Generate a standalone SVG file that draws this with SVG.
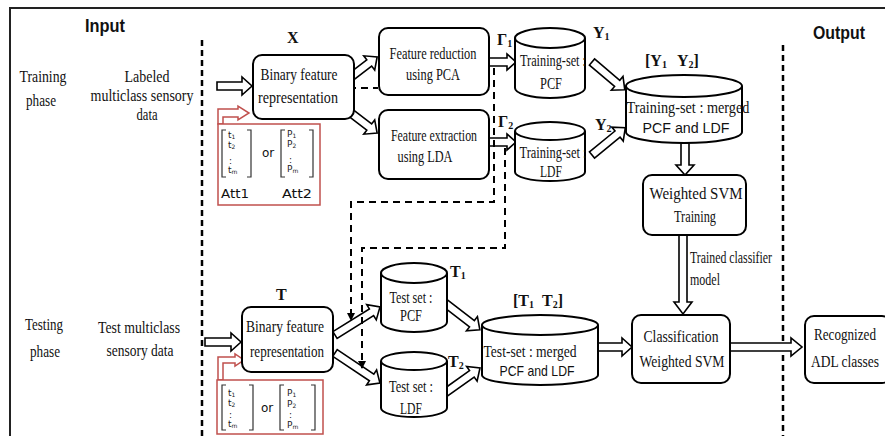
<svg xmlns="http://www.w3.org/2000/svg" width="885" height="436" viewBox="0 0 885 436">
<style>
.bx{fill:#fff;stroke:#000;stroke-width:2}
.cy{fill:#fff;stroke:#000;stroke-width:2}
.t{font-family:"Liberation Serif",serif;font-size:17px;text-anchor:middle;fill:#111}
.ts{font-family:"Liberation Serif",serif;font-size:17px;fill:#111}
.sa{font-family:"Liberation Sans",sans-serif;font-size:15px;text-anchor:middle;fill:#111}
.hd{font-family:"Liberation Sans",sans-serif;font-size:19px;font-weight:bold;fill:#111}
.lb{font-family:"Liberation Serif",serif;font-size:16px;font-weight:bold;fill:#111}
.arr{fill:#fff;stroke:#000;stroke-width:1.6;stroke-linejoin:miter}
.dash{fill:none;stroke:#000;stroke-width:2;stroke-dasharray:7 5}
.div{fill:none;stroke:#000;stroke-width:2.5;stroke-dasharray:6 4}
.red{fill:#fff;stroke:#c0504d;stroke-width:1.5}
.brk{fill:none;stroke:#333;stroke-width:1.2}
.m{font-family:"DejaVu Sans",sans-serif;font-size:9px;fill:#222}
.att{font-family:"DejaVu Sans",sans-serif;font-size:12px;fill:#111}
</style>
<defs>
<marker id="ah" viewBox="0 0 8 8" refX="7" refY="4" markerWidth="8" markerHeight="8" markerUnits="userSpaceOnUse" orient="auto">
<path d="M0,0 L8,4 L0,8 z" fill="#000"/>
</marker>
</defs>
<rect width="885" height="436" fill="#fff"/>
<rect x="10" y="8" width="880" height="440" fill="none" stroke="#222" stroke-width="2"/>
<g id="dividers">
<line class="div" x1="202" y1="40" x2="202" y2="436"/>
<line class="div" x1="783" y1="45" x2="783" y2="436"/>
</g>
<g id="headings">
<text class="hd" x="85" y="32" textLength="40" lengthAdjust="spacingAndGlyphs">Input</text>
<text class="hd" x="813" y="39" textLength="52" lengthAdjust="spacingAndGlyphs">Output</text>
<text class="t" x="43" y="82" textLength="47" lengthAdjust="spacingAndGlyphs">Training</text>
<text class="t" x="41" y="106" textLength="30" lengthAdjust="spacingAndGlyphs">phase</text>
<text class="t" x="147" y="82" textLength="45" lengthAdjust="spacingAndGlyphs">Labeled</text>
<text class="t" x="142" y="101" textLength="103" lengthAdjust="spacingAndGlyphs">multiclass sensory</text>
<text class="t" x="147" y="120" textLength="21" lengthAdjust="spacingAndGlyphs">data</text>
<text class="t" x="44" y="330" textLength="38" lengthAdjust="spacingAndGlyphs">Testing</text>
<text class="t" x="45" y="357" textLength="30" lengthAdjust="spacingAndGlyphs">phase</text>
<text class="t" x="139" y="333" textLength="82" lengthAdjust="spacingAndGlyphs">Test multiclass</text>
<text class="t" x="140" y="356" textLength="67" lengthAdjust="spacingAndGlyphs">sensory data</text>
</g>
<g id="connectors">
<polygon class="arr" points="217,82 242,82 242,77 252,86 242,95 242,90 217,90"/>
<polygon class="arr" points="205,338 231,338 231,333 241,342 231,351 231,346 205,346"/>
<polygon class="arr" points="489,58 507,58 507,54 516,62 507,70 507,66 489,66"/>
<polygon class="arr" points="489,138 507,138 507,134 516,142 507,150 507,146 489,146"/>
<polygon class="arr" points="598,343 622,343 622,338 632,347 622,356 622,351 598,351"/>
<polygon class="arr" points="730,343 791,343 791,338 802,347 791,356 791,351 730,351"/>
<polygon class="arr" points="681,143 681,165 676,165 685,175 694,165 689,165 689,143"/>
<polygon class="arr" points="679,235 679,302 674,302 683,314 692,302 687,302 687,235"/>
<polygon class="arr" transform="translate(347,80) rotate(-37.5)" points="0,-4 28,-4 28,-9 38,0 28,9 28,4 0,4"/>
<polygon class="arr" transform="translate(347,110) rotate(37.5)" points="0,-4 28,-4 28,-9 38,0 28,9 28,4 0,4"/>
<polygon class="arr" transform="translate(592,62) rotate(40.3)" points="0,-4 33,-4 33,-9 43,0 33,9 33,4 0,4"/>
<polygon class="arr" transform="translate(592,155) rotate(-39.3)" points="0,-4 33,-4 33,-9 43,0 33,9 33,4 0,4"/>
<polygon class="arr" transform="translate(335,335) rotate(-31.9)" points="0,-4 43,-4 43,-9 53,0 43,9 43,4 0,4"/>
<polygon class="arr" transform="translate(335,353) rotate(33.7)" points="0,-4 44,-4 44,-9 54,0 44,9 44,4 0,4"/>
<polygon class="arr" transform="translate(445,303) rotate(37.6)" points="0,-4 34,-4 34,-9 44,0 34,9 34,4 0,4"/>
<polygon class="arr" transform="translate(445,393) rotate(-35.5)" points="0,-4 33,-4 33,-9 43,0 33,9 33,4 0,4"/>
<polygon class="red" points="218,124 218,109 238,109 238,106 249,113 238,120 238,117 223,117 223,124"/>
<polygon class="red" points="218,380 218,357 235,357 235,354 244,360 235,366 235,363 223,363 223,380"/>
<line class="dash" x1="349" y1="88" x2="378" y2="88"/>
<path class="dash" d="M494,68 V202 H351 V320" marker-end="url(#ah)"/>
<path class="dash" d="M505,148 V248 H362 V368" marker-end="url(#ah)"/>
<text class="ts" x="690" y="263" textLength="82" lengthAdjust="spacingAndGlyphs">Trained classifier</text>
<text class="ts" x="690" y="285" textLength="30" lengthAdjust="spacingAndGlyphs">model</text>
</g>
<g id="att-top">
<rect class="red" x="218" y="124" width="102" height="81"/>
<path class="brk" d="M226,130 H222 V177 H226 M247,130 H251 V177 H247 M285,130 H281 V177 H285 M309,130 H313 V177 H309"/>
<text class="m" x="228" y="138">t<tspan font-size="6" dy="1">1</tspan></text>
<text class="m" x="228" y="148">t<tspan font-size="6" dy="1">2</tspan></text>
<text class="m" x="229" y="164">:</text>
<text class="m" x="228" y="173">t<tspan font-size="6" dy="1">m</tspan></text>
<text class="m" x="287" y="137">P<tspan font-size="6" dy="1">1</tspan></text>
<text class="m" x="287" y="147">P<tspan font-size="6" dy="1">2</tspan></text>
<text class="m" x="289" y="163">:</text>
<text class="m" x="287" y="172">P<tspan font-size="6" dy="1">m</tspan></text>
<text class="att" x="262" y="157">or</text>
<text class="att" x="221" y="198" textLength="28" lengthAdjust="spacingAndGlyphs">Att1</text>
<text class="att" x="282" y="198" textLength="30" lengthAdjust="spacingAndGlyphs">Att2</text>
</g>
<g id="att-bottom">
<rect class="red" x="217" y="380" width="106" height="54"/>
<path class="brk" d="M226,385 H222 V430 H226 M249,385 H253 V430 H249 M284,385 H280 V430 H284 M311,385 H315 V430 H311"/>
<text class="m" x="228" y="396">t<tspan font-size="6" dy="1">1</tspan></text>
<text class="m" x="228" y="406">t<tspan font-size="6" dy="1">2</tspan></text>
<text class="m" x="229" y="418">:</text>
<text class="m" x="228" y="427">t<tspan font-size="6" dy="1">m</tspan></text>
<text class="m" x="287" y="396">P<tspan font-size="6" dy="1">1</tspan></text>
<text class="m" x="287" y="407">P<tspan font-size="6" dy="1">2</tspan></text>
<text class="m" x="289" y="418">:</text>
<text class="m" x="287" y="428">P<tspan font-size="6" dy="1">m</tspan></text>
<text class="att" x="261" y="412">or</text>
</g>
<g id="binary-top">
<rect class="bx" x="253" y="55" width="101" height="64" rx="9"/>
<text class="t" x="299" y="80" textLength="77" lengthAdjust="spacingAndGlyphs">Binary feature</text>
<text class="t" x="298" y="103" textLength="80" lengthAdjust="spacingAndGlyphs">representation</text>
<text class="lb" x="287" y="43">X</text>
</g>
<g id="pca">
<rect class="bx" x="379" y="28" width="110" height="67" rx="9"/>
<text class="t" x="433" y="59" textLength="87" lengthAdjust="spacingAndGlyphs">Feature reduction</text>
<text class="t" x="433" y="80" textLength="54" lengthAdjust="spacingAndGlyphs">using PCA</text>
</g>
<g id="lda">
<rect class="bx" x="379" y="110" width="110" height="69" rx="9"/>
<text class="t" x="434" y="141" textLength="86" lengthAdjust="spacingAndGlyphs">Feature extraction</text>
<text class="t" x="425" y="162" textLength="55" lengthAdjust="spacingAndGlyphs">using LDA</text>
</g>
<g id="train-pcf">
<path class="cy" d="M515,38 V88 A35,10 0 0 0 585,88 V38"/>
<ellipse class="cy" cx="550" cy="38" rx="35" ry="10"/>
<text class="t" x="553" y="66" font-size="16" textLength="66" lengthAdjust="spacingAndGlyphs">Training-set :</text>
<text class="t" x="551" y="89" textLength="22" lengthAdjust="spacingAndGlyphs">PCF</text>
</g>
<g id="train-ldf">
<path class="cy" d="M515,131 V172 A35,9 0 0 0 585,172 V131"/>
<ellipse class="cy" cx="550" cy="131" rx="35" ry="9"/>
<text class="t" x="553" y="158" font-size="16" textLength="67" lengthAdjust="spacingAndGlyphs">Training-set :</text>
<text class="t" x="551" y="177" textLength="22" lengthAdjust="spacingAndGlyphs">LDF</text>
</g>
<g id="train-merged">
<path class="cy" d="M626,86 V132 A58,11 0 0 0 742,132 V86"/>
<ellipse class="cy" cx="684" cy="86" rx="58" ry="11"/>
<text class="t" x="688" y="113" font-size="16" textLength="123" lengthAdjust="spacingAndGlyphs">Training-set : merged</text>
<text class="sa" x="686" y="133" textLength="87" lengthAdjust="spacingAndGlyphs">PCF and LDF</text>
</g>
<g id="labels-train">
<text class="lb" x="497" y="45" font-weight="normal">Γ<tspan font-size="10" dy="2">1</tspan></text>
<text class="lb" x="498" y="127" font-weight="normal">Γ<tspan font-size="10" dy="2">2</tspan></text>
<text class="lb" x="593" y="38">Y<tspan font-size="10" dy="2">1</tspan></text>
<text class="lb" x="595" y="130">Y<tspan font-size="10" dy="2">2</tspan></text>
<text class="lb" x="645" y="66">[Y<tspan font-size="10" dy="2">1</tspan><tspan dx="10" dy="-2">Y</tspan><tspan font-size="10" dy="2">2</tspan><tspan dy="-2">]</tspan></text>
</g>
<g id="wsvm-train">
<rect class="bx" x="643" y="175" width="103" height="60" rx="9"/>
<text class="t" x="696" y="199" textLength="93" lengthAdjust="spacingAndGlyphs">Weighted SVM</text>
<text class="t" x="695" y="222" textLength="42" lengthAdjust="spacingAndGlyphs">Training</text>
</g>
<g id="binary-bottom">
<rect class="bx" x="242" y="307" width="91" height="65" rx="9"/>
<text class="t" x="285" y="332" textLength="78" lengthAdjust="spacingAndGlyphs">Binary feature</text>
<text class="t" x="287" y="357" textLength="74" lengthAdjust="spacingAndGlyphs">representation</text>
<text class="lb" x="276" y="300">T</text>
</g>
<g id="test-pcf">
<path class="cy" d="M381,273 V322 A33,10 0 0 0 447,322 V273"/>
<ellipse class="cy" cx="414" cy="273" rx="33" ry="10"/>
<text class="t" x="411" y="303" textLength="43" lengthAdjust="spacingAndGlyphs">Test set :</text>
<text class="t" x="411" y="321" textLength="22" lengthAdjust="spacingAndGlyphs">PCF</text>
</g>
<g id="test-ldf">
<path class="cy" d="M381,361 V408 A33,9 0 0 0 447,408 V361"/>
<ellipse class="cy" cx="414" cy="361" rx="33" ry="9"/>
<text class="t" x="411" y="392" textLength="44" lengthAdjust="spacingAndGlyphs">Test set :</text>
<text class="t" x="411" y="414" textLength="22" lengthAdjust="spacingAndGlyphs">LDF</text>
</g>
<g id="test-merged">
<path class="cy" d="M482,325 V375 A58,10 0 0 0 598,375 V325"/>
<ellipse class="cy" cx="540" cy="325" rx="58" ry="10"/>
<text class="t" x="530" y="357" textLength="93" lengthAdjust="spacingAndGlyphs">Test-set : merged</text>
<text class="sa" x="537" y="376" textLength="75" lengthAdjust="spacingAndGlyphs">PCF and LDF</text>
</g>
<g id="labels-test">
<text class="lb" x="450" y="277">T<tspan font-size="10" dy="2">1</tspan></text>
<text class="lb" x="448" y="367">T<tspan font-size="10" dy="2">2</tspan></text>
<text class="lb" x="513" y="306">[T<tspan font-size="10" dy="2">1</tspan><tspan dx="8" dy="-2">T</tspan><tspan font-size="10" dy="2">2</tspan><tspan dy="-2">]</tspan></text>
</g>
<g id="classification">
<rect class="bx" x="632" y="315" width="98" height="68" rx="9"/>
<text class="t" x="681" y="342" textLength="75" lengthAdjust="spacingAndGlyphs">Classification</text>
<text class="t" x="682" y="367" textLength="85" lengthAdjust="spacingAndGlyphs">Weighted SVM</text>
</g>
<g id="recognized">
<rect class="bx" x="805" y="316" width="86" height="67" rx="9"/>
<text class="t" x="845" y="340" textLength="62" lengthAdjust="spacingAndGlyphs">Recognized</text>
<text class="t" x="845" y="367" textLength="68" lengthAdjust="spacingAndGlyphs">ADL classes</text>
</g>
</svg>
